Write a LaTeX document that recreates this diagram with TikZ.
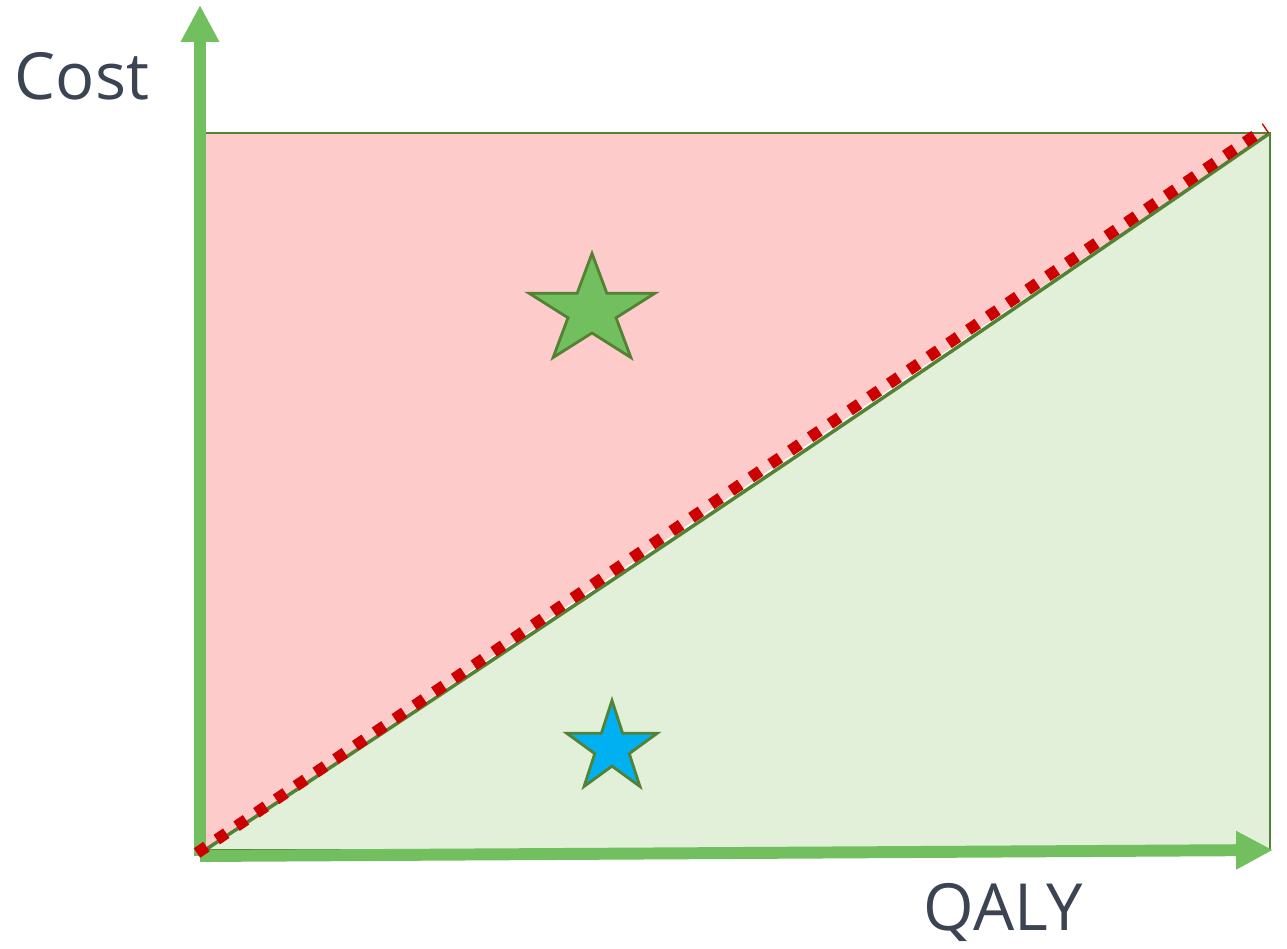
\documentclass[tikz,border=0pt]{standalone}
\usepackage{fontspec}
\setmainfont{Open Sans}
\usetikzlibrary{arrows.meta,shapes.geometric}
\definecolor{axisgreen}{HTML}{72BF5F}
\definecolor{darkgreen}{HTML}{548235}
\definecolor{pinkfill}{HTML}{FDCBCA}
\definecolor{greenfill}{HTML}{E2F0D9}
\definecolor{dotred}{HTML}{CC0000}
\definecolor{starblue}{HTML}{00B0F0}
\definecolor{labelgray}{HTML}{3B4453}
\tikzset{ax/.style={axisgreen,line width=6.8pt,-{Triangle[length=21pt,width=20.5pt]}},lbl/.style={labelgray,font=\fontsize{37}{44}\selectfont,inner sep=0pt},
mystar/.style={star,star points=5,star point ratio=2.618,draw=darkgreen,line width=1.6pt,inner sep=0pt}}
\begin{document}
\begin{tikzpicture}[x=0.02cm,y=-0.02cm]
\useasboundingbox(0,0)rectangle(1287,949);
\coordinate(bl)at(205,850);\coordinate(tl)at(205,133);\coordinate(tr)at(1270,133);\coordinate(br)at(1270,850);
\coordinate(c1)at(563,615);\coordinate(c2)at(918,376);
\fill[pinkfill](bl)--(tl)--(tr)--cycle;
\fill[greenfill](bl)..controls(c1)and(c2)..(tr)--(br)--cycle;
\draw[darkgreen,line width=1.2pt](bl)rectangle(tr);
\draw[darkgreen,line width=2pt](bl)..controls(c1)and(c2)..(tr);
\coordinate(o)at(200,856);\coordinate(ytip)at(200,5);\coordinate(xtip)at(1273,850);
\draw[ax](o)--(ytip);
\draw[ax](o)--(xtip);
\coordinate(r0)at(197,853);\coordinate(r1)at(1266,128);
\draw[dotred,line width=6.5pt,dash pattern=on 6.5pt off 7.1pt](r0)--(r1);
\node[mystar,fill=axisgreen,minimum size=115*0.02cm,xscale=1.15](gstar)at(592,311){};
\node[mystar,fill=starblue,minimum size=95*0.02cm](bstar)at(612,748){};
\node[lbl](cost)at(82,76){Cost};
\node[lbl](qaly)at(1003,912){QALY};
\end{tikzpicture}
\end{document}
